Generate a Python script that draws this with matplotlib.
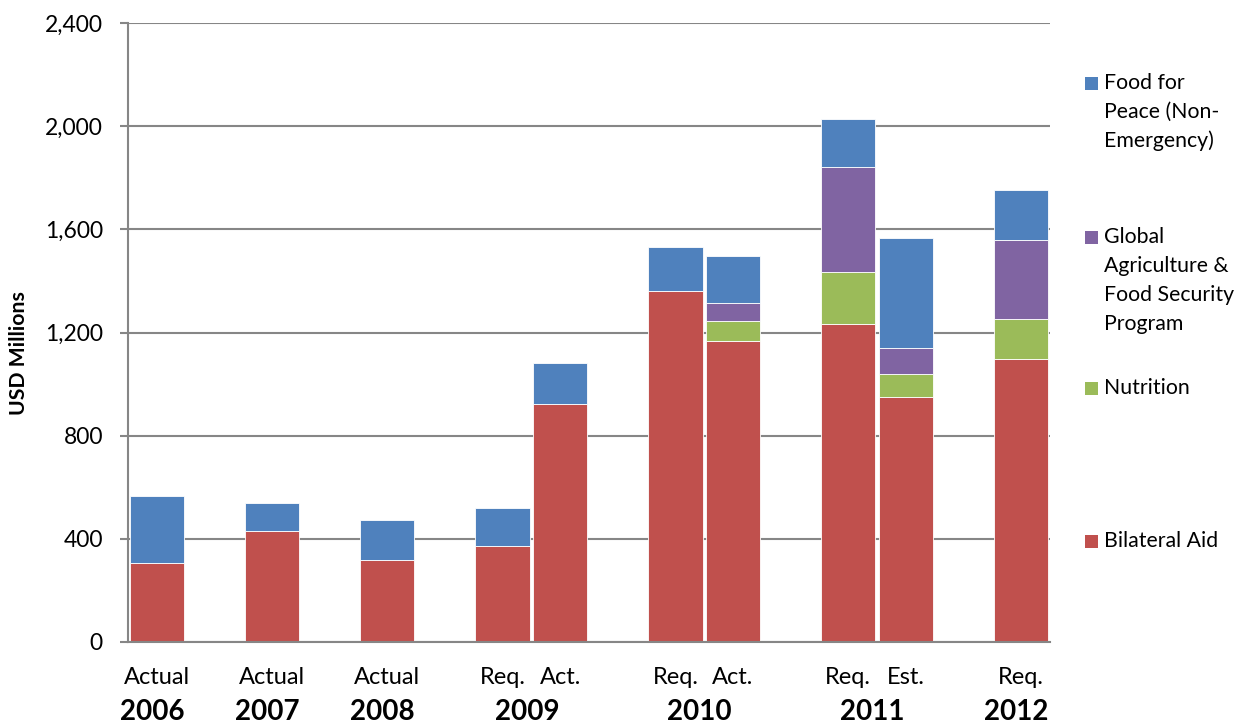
import matplotlib
matplotlib.use("Agg")
import matplotlib.pyplot as plt
from matplotlib.patches import Rectangle
from matplotlib.transforms import blended_transform_factory
import numpy as np

# Funding by category (USD millions)
sub_labels = ["Actual", "Actual", "Actual", "Req.", "Act.", "Req.", "Act.", "Req.", "Est.", "Req."]
bar_years = ["2006", "2007", "2008", "2009", "2009", "2010", "2010", "2011", "2011", "2012"]
years = ["2006", "2007", "2008", "2009", "2010", "2011", "2012"]

bilateral_aid = [305, 432, 317, 372, 921, 1360, 1168, 1234, 949, 1098]
nutrition = [0, 0, 0, 0, 0, 0, 77, 201, 91, 153]
gafsp = [0, 0, 0, 0, 0, 0, 68, 408, 99, 306]
food_for_peace = [261, 106, 156, 149, 162, 170, 184, 184, 426, 194]

series_names = ["Bilateral Aid", "Nutrition",
                "Global\nAgriculture &\nFood Security\nProgram",
                "Food for\nPeace (Non-\nEmergency)"]
colors = ["#C0504D", "#9BBB59", "#8064A2", "#4F81BD"]

y_ticks = [0, 400, 800, 1200, 1600, 2000, 2400]

plt.rcParams["font.family"] = ["Lato", "DejaVu Sans"]

# Bars sit in a 16-slot grid; years are separated by an empty slot
slots = np.array([0, 2, 4, 6, 7, 9, 10, 12, 13, 15], dtype=float)

W, H = 1239, 724
fig = plt.figure(figsize=(W / 100, H / 100), dpi=100)
ax = fig.add_axes([128 / W, (H - 642) / H, (1050 - 128) / W, (642 - 23) / H])

bottom = np.zeros(len(slots))
for vals, col, name in zip([bilateral_aid, nutrition, gafsp, food_for_peace], colors, series_names):
    v = np.array(vals, dtype=float)
    ax.bar(slots, v, width=0.94, bottom=bottom, color=col,
           edgecolor="#ffffff", linewidth=0.6, zorder=3, label=name)
    bottom += v

ax.set_xlim(-0.5, 15.5)
ax.set_ylim(0, 2400)
ax.set_yticks(y_ticks)
ax.set_yticklabels([f"{t:,}" for t in y_ticks], fontsize=16.5)
ax.grid(axis="y", color="#868686", linewidth=1.5, zorder=0)
ax.set_axisbelow(True)

for side in ["top", "right"]:
    ax.spines[side].set_visible(False)
for side in ["left", "bottom"]:
    ax.spines[side].set_color("#868686")
    ax.spines[side].set_linewidth(1.5)
    ax.spines[side].set_zorder(4)

ax.tick_params(axis="y", length=6, width=1.5, color="#868686", pad=12)
ax.set_xticks(slots)
ax.set_xticklabels(sub_labels, fontsize=17)
ax.tick_params(axis="x", length=0, pad=18)

fig.text(19 / W, 1 - 353 / H, "USD Millions", rotation=90, ha="center", va="center",
         fontsize=15.3, fontweight="bold")

# Year captions centred under each year's bars
trans = blended_transform_factory(ax.transData, fig.transFigure)
for yr in years:
    xs = [s for s, b in zip(slots, bar_years) if b == yr]
    xc = np.mean(xs) - 0.08
    ax.text(xc, 1 - 712 / H, yr, transform=trans, ha="center", va="center",
            fontsize=20, fontweight="bold", clip_on=False)

# Legend on the right, entries spread down the side
legend_rows = [
    (3, 83),
    (2, 237),
    (1, 388),
    (0, 541),
]
line_step = 29
for idx, y0 in legend_rows:
    fig.patches.append(Rectangle((1085 / W, 1 - (y0 + 7) / H), 13 / W, 13 / H,
                                 transform=fig.transFigure, facecolor=colors[idx],
                                 edgecolor="none"))
    for k, line in enumerate(series_names[idx].split("\n")):
        fig.text(1104 / W, 1 - (y0 + k * line_step) / H, line, ha="left", va="center",
                 fontsize=15.3)

fig.savefig("out.png", dpi=100)
